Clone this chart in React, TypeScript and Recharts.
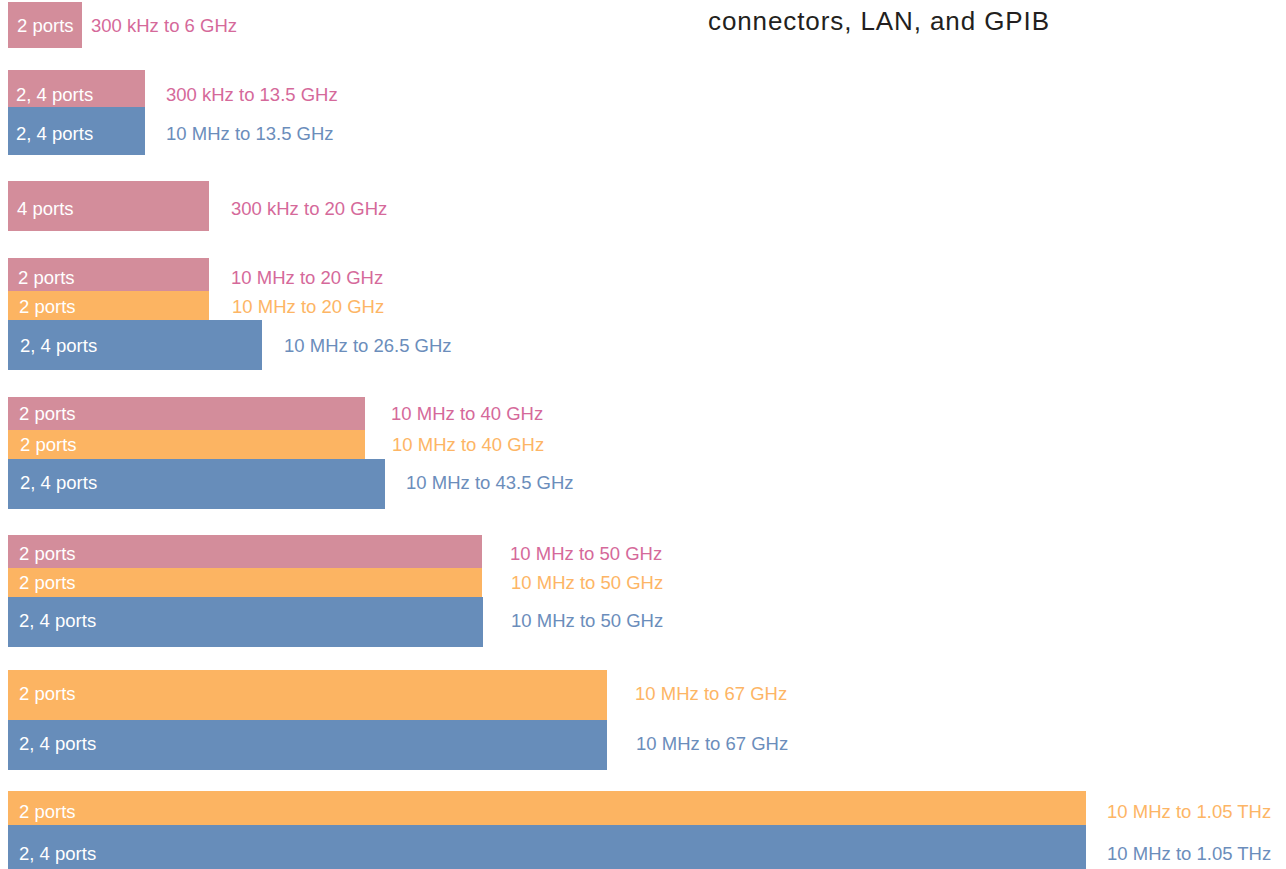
import { ComposedChart, XAxis, YAxis, ReferenceArea } from "recharts";

// one entry per bar, top to bottom
const GROUP = [0, 1, 1, 2, 3, 3, 3, 4, 4, 4, 5, 5, 5, 6, 6, 7, 7];
const FAMILY = [
  "pink", "pink", "blue", "pink", "pink", "orange", "blue", "pink", "orange",
  "blue", "pink", "orange", "blue", "orange", "blue", "orange", "blue",
];
const PORTS = [
  "2 ports", "2, 4 ports", "2, 4 ports", "4 ports", "2 ports", "2 ports", "2, 4 ports",
  "2 ports", "2 ports", "2, 4 ports", "2 ports", "2 ports", "2, 4 ports",
  "2 ports", "2, 4 ports", "2 ports", "2, 4 ports",
];
const RANGES = [
  "300 kHz to 6 GHz", "300 kHz to 13.5 GHz", "10 MHz to 13.5 GHz", "300 kHz to 20 GHz",
  "10 MHz to 20 GHz", "10 MHz to 20 GHz", "10 MHz to 26.5 GHz",
  "10 MHz to 40 GHz", "10 MHz to 40 GHz", "10 MHz to 43.5 GHz",
  "10 MHz to 50 GHz", "10 MHz to 50 GHz", "10 MHz to 50 GHz",
  "10 MHz to 67 GHz", "10 MHz to 67 GHz", "10 MHz to 1.05 THz", "10 MHz to 1.05 THz",
];
// bar length on the (non-linear) coverage axis
const SPAN = [74, 137, 137, 201, 201, 201, 254, 357, 357, 377, 474, 474, 475, 599, 599, 1078, 1078];

// layout
const BAR_HEIGHT = [46, 37, 48, 50, 33, 29, 50, 33, 29, 50, 33, 29, 50, 50, 50, 34, 50];
const GROUP_GAP = [22, 26, 27, 27, 26, 23, 21];
const FIRST_TOP = 2;
const LABEL_GAP = [9, 21, 21, 22, 22, 23, 22, 26, 27, 21, 28, 29, 28, 28, 29, 21, 21];
const PORT_INSET = [9, 8, 8, 9, 10, 11, 12, 11, 12, 12, 11, 11, 11, 11, 11, 11, 11];
const TEXT_DY = [0, 6, 2, 2, 3, 1, 0, 0, 0, -2, 2, 0, -2, -2, -2, 3, 3];

const BAR_COLORS: Record<string, string> = {
  pink: "#D38D9B",
  orange: "#FCB462",
  blue: "#678DBA",
};
const TEXT_COLORS: Record<string, string> = {
  pink: "#D5699A",
  orange: "#FDB565",
  blue: "#6B8DBB",
};

const FONT = '"Liberation Sans", Arial, sans-serif';
const WIDTH = 1286;
const HEIGHT = 869;

function computeTops() {
  const tops: number[] = [];
  let y = FIRST_TOP;
  GROUP.forEach((g, i) => {
    if (i > 0 && g !== GROUP[i - 1]) y += GROUP_GAP[g - 1];
    tops.push(y);
    y += BAR_HEIGHT[i];
  });
  return tops;
}

function SegmentText({ viewBox, index }: any) {
  if (!viewBox) return null;
  const { x, y, width, height } = viewBox;
  const cy = y + height / 2 + TEXT_DY[index];
  return (
    <g>
      <text
        x={x + PORT_INSET[index]}
        y={cy}
        dy="0.355em"
        fill="#ffffff"
        fontSize={18.5}
        fontFamily={FONT}
      >
        {PORTS[index]}
      </text>
      <text
        x={x + width + LABEL_GAP[index]}
        y={cy}
        dy="0.355em"
        fill={TEXT_COLORS[FAMILY[index]]}
        fontSize={18.5}
        fontFamily={FONT}
      >
        {RANGES[index]}
      </text>
    </g>
  );
}

export default function App() {
  const tops = computeTops();
  return (
    <div style={{ position: "absolute", left: 0, top: 0, width: WIDTH, height: HEIGHT, background: "#fff" }}>
      <ComposedChart width={WIDTH} height={HEIGHT} margin={{ top: 0, right: 0, bottom: 0, left: 8 }}>
        <XAxis type="number" dataKey="x" domain={[0, WIDTH - 8]} hide allowDataOverflow />
        <YAxis type="number" dataKey="y" domain={[0, HEIGHT]} reversed hide allowDataOverflow />
        {SPAN.map((len, i) => (
          <ReferenceArea
            key={i}
            x1={0}
            x2={len}
            y1={tops[i]}
            y2={tops[i] + BAR_HEIGHT[i]}
            fill={BAR_COLORS[FAMILY[i]]}
            fillOpacity={1}
            stroke="none"
            ifOverflow="visible"
            label={<SegmentText index={i} />}
          />
        ))}
      </ComposedChart>
      <svg width={WIDTH} height={60} style={{ position: "absolute", left: 0, top: 0, pointerEvents: "none" }}>
        <text x={708} y={30} fill="#231f20" fontSize={26} fontFamily={FONT} letterSpacing={0.9}>
          connectors, LAN, and GPIB
        </text>
      </svg>
    </div>
  );
}
